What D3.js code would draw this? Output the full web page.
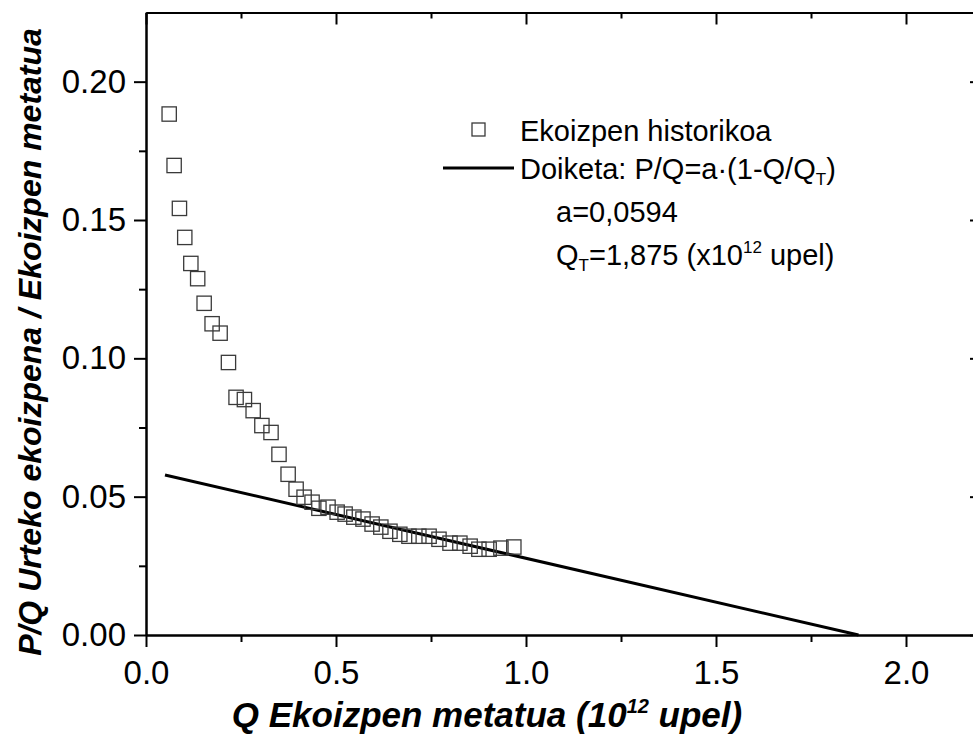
<!DOCTYPE html>
<html>
<head>
<meta charset="utf-8">
<script src="https://cdn.jsdelivr.net/npm/d3@7"></script>
<style>
  body { margin: 0; background: #fff; }
  svg { display: block; font-family: Arial, "Liberation Sans", sans-serif; }
  .axis path, .axis line { stroke: #000; stroke-width: 2; }
  .axis text { font-size: 33px; fill: #000; font-family: Arial, "Liberation Sans", sans-serif; }
</style>
</head>
<body>
<div id="chart"></div>
<script>
/* =========================
   Data
========================= */
// cumulative production Q (10^12 barrels)
const qValues = [
  0.061, 0.074, 0.088, 0.102, 0.118, 0.136, 0.153, 0.174, 0.195, 0.217,
  0.237, 0.259, 0.282, 0.305, 0.329, 0.350, 0.374, 0.395, 0.416, 0.437,
  0.455, 0.479, 0.503, 0.524, 0.547, 0.571, 0.595, 0.618, 0.642, 0.668,
  0.692, 0.718, 0.745, 0.771, 0.800, 0.826, 0.853, 0.876, 0.903, 0.934,
  0.968
];
// annual production / cumulative production
const pqValues = [
  0.1883, 0.1697, 0.1542, 0.1437, 0.1343, 0.1288, 0.1199, 0.1125, 0.1091, 0.0985,
  0.0859, 0.0851, 0.0811, 0.0757, 0.0732, 0.0653, 0.0581, 0.0527, 0.0498, 0.0480,
  0.0458, 0.0462, 0.0444, 0.0437, 0.0426, 0.0419, 0.0401, 0.0390, 0.0375, 0.0364,
  0.0357, 0.0357, 0.0357, 0.0346, 0.0332, 0.0332, 0.0321, 0.0310, 0.0310, 0.0314,
  0.0318
];

// fit: P/Q = a (1 - Q/QT)
const fitA = 0.0594;
const fitQT = 1.875;
const fitRange = [0.05, 1.875];

const xMajor = [0.0, 0.5, 1.0, 1.5, 2.0];
const xMinor = [0.25, 0.75, 1.25, 1.75];
const yMajor = [0.00, 0.05, 0.10, 0.15, 0.20];
const yMinor = [0.025, 0.075, 0.125, 0.175];

/* =========================
   Setup
========================= */
const W = 973, H = 749;
const margin = { left: 146, right: 982, top: 12.5, bottom: 635 };

const svg = d3.select("#chart").append("svg")
  .attr("width", W).attr("height", H);

const x = d3.scaleLinear().domain([0, 2.2]).range([margin.left, margin.right]);
const y = d3.scaleLinear().domain([0, 0.225]).range([margin.bottom, margin.top]);

/* =========================
   Axes
========================= */
// bottom
svg.append("g").attr("class", "axis")
  .attr("transform", `translate(0,${margin.bottom})`)
  .call(d3.axisBottom(x).tickValues(xMajor).tickSize(12).tickSizeOuter(0)
    .tickPadding(14).tickFormat(d3.format(".1f")));
svg.append("g").attr("class", "axis")
  .attr("transform", `translate(0,${margin.bottom})`)
  .call(d3.axisBottom(x).tickValues(xMinor).tickSize(7).tickSizeOuter(0).tickFormat(""));

// left
svg.append("g").attr("class", "axis")
  .attr("transform", `translate(${margin.left},0)`)
  .call(d3.axisLeft(y).tickValues(yMajor).tickSize(12).tickSizeOuter(0)
    .tickPadding(8).tickFormat(d3.format(".2f")));
svg.append("g").attr("class", "axis")
  .attr("transform", `translate(${margin.left},0)`)
  .call(d3.axisLeft(y).tickValues(yMinor).tickSize(7).tickSizeOuter(0).tickFormat(""));

// top (ticks inward)
svg.append("g").attr("class", "axis")
  .attr("transform", `translate(0,${margin.top})`)
  .call(d3.axisBottom(x).tickValues(xMajor).tickSize(12).tickSizeOuter(0).tickFormat(""));
svg.append("g").attr("class", "axis")
  .attr("transform", `translate(0,${margin.top})`)
  .call(d3.axisBottom(x).tickValues(xMinor).tickSize(6).tickSizeOuter(0).tickFormat(""));

// right (ticks inward)
svg.append("g").attr("class", "axis")
  .attr("transform", `translate(${margin.right},0)`)
  .call(d3.axisLeft(y).tickValues(yMajor).tickSize(12).tickSizeOuter(0).tickFormat(""));

svg.selectAll(".axis .tick text").attr("font-size", 33);

/* =========================
   Fit line
========================= */
const line = d3.line()
  .x(d => x(d))
  .y(d => y(fitA * (1 - d / fitQT)));

svg.append("path")
  .datum(fitRange)
  .attr("fill", "none")
  .attr("stroke", "#000")
  .attr("stroke-width", 3)
  .attr("d", line);

/* =========================
   Historical points
========================= */
const sq = 14.3;
svg.append("g").selectAll("rect")
  .data(qValues.map((q, i) => ({ q, v: pqValues[i] })))
  .join("rect")
  .attr("x", d => x(d.q) - sq / 2)
  .attr("y", d => y(d.v) - sq / 2)
  .attr("width", sq)
  .attr("height", sq)
  .attr("fill", "none")
  .attr("stroke", "#3a3a3a")
  .attr("stroke-width", 1.3);

/* =========================
   Legend
========================= */
const lg = svg.append("g").attr("font-size", 29).attr("fill", "#000");

lg.append("rect")
  .attr("x", 472).attr("y", 123).attr("width", 13).attr("height", 13)
  .attr("fill", "none").attr("stroke", "#3a3a3a").attr("stroke-width", 1.3);
lg.append("text").attr("x", 520).attr("y", 141).text("Ekoizpen historikoa");

lg.append("line")
  .attr("x1", 443).attr("x2", 514).attr("y1", 168).attr("y2", 168)
  .attr("stroke", "#000").attr("stroke-width", 3);
const t2 = lg.append("text").attr("x", 520).attr("y", 179);
t2.append("tspan").text("Doiketa: P/Q=a·(1-Q/Q");
t2.append("tspan").attr("font-size", 17).attr("dy", 6).text("T");
t2.append("tspan").attr("dy", -6).text(")");

lg.append("text").attr("x", 556).attr("y", 222).text("a=0,0594");

const t4 = lg.append("text").attr("x", 556).attr("y", 265);
t4.append("tspan").text("Q");
t4.append("tspan").attr("font-size", 17).attr("dy", 6).text("T");
t4.append("tspan").attr("dy", -6).text("=1,875 (x10");
t4.append("tspan").attr("font-size", 17).attr("dy", -12).text("12");
t4.append("tspan").attr("dy", 12).text(" upel)");

/* =========================
   Axis titles
========================= */
const xt = svg.append("text")
  .attr("x", 487).attr("y", 727)
  .attr("text-anchor", "middle")
  .attr("font-size", 35).attr("font-weight", "bold").attr("font-style", "italic");
xt.append("tspan").text("Q Ekoizpen metatua (10");
xt.append("tspan").attr("font-size", 20).attr("dy", -14).text("12");
xt.append("tspan").attr("dy", 14).text(" upel)");

svg.append("text")
  .attr("transform", "translate(41,342) rotate(-90)")
  .attr("text-anchor", "middle")
  .attr("font-size", 32).attr("font-weight", "bold").attr("font-style", "italic")
  .text("P/Q Urteko ekoizpena / Ekoizpen metatua");
</script>
</body>
</html>
